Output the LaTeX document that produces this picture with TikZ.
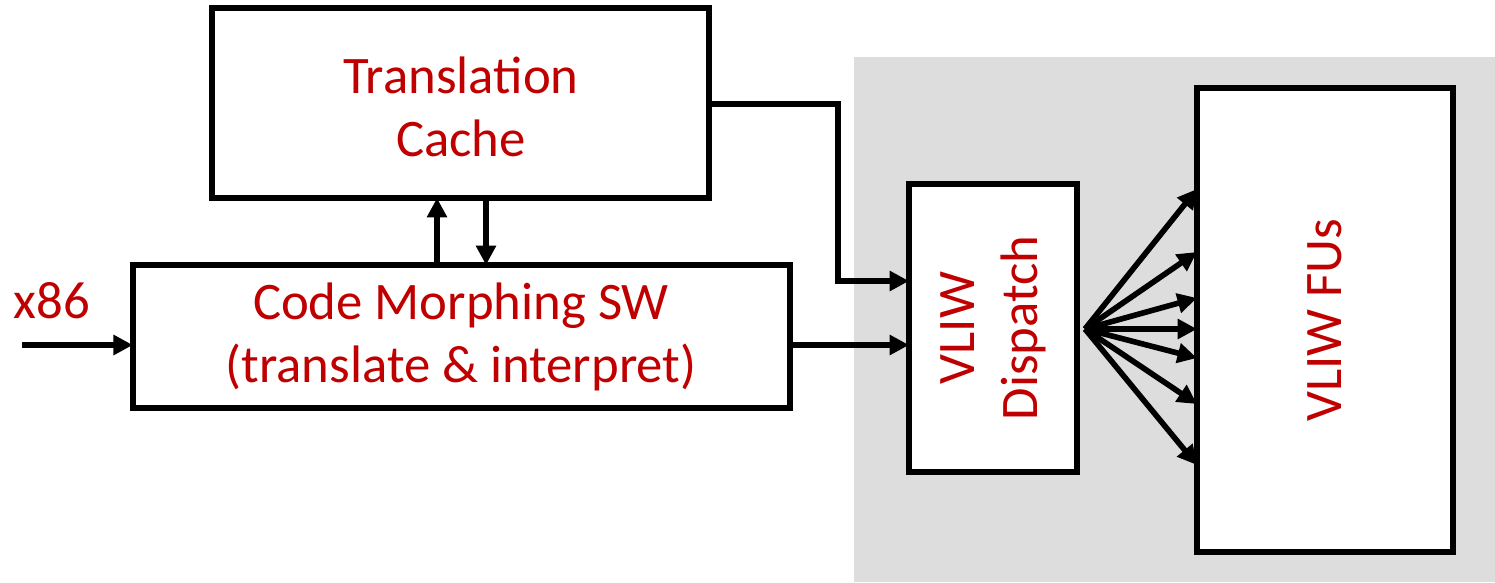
\documentclass[tikz,border=0pt]{standalone}
\usepackage{fontspec}
\setmainfont{Carlito}
\usetikzlibrary{arrows.meta}
\definecolor{txtred}{HTML}{C00000}
\definecolor{bggray}{HTML}{DDDDDD}
\begin{document}
\begin{tikzpicture}[x=0.01cm,y=-0.01cm,
  blockbox/.style={draw=black,line width=1.8pt,fill=white,inner sep=0pt,outer sep=0pt},
  lbl/.style={text=txtred,font=\fontsize{15pt}{18pt}\selectfont,align=center},
  conn/.style={line width=1.6pt,-{Triangle[length=5.5pt,width=5.5pt]}}]
\useasboundingbox (0,0) rectangle (1495,582);
\fill[bggray] (854,57) rectangle (1495,582);
\node[blockbox,minimum width=4.97cm,minimum height=1.90cm] (tcbox) at (460.5,103) {};
\node[lbl] (tc) at (461,107) {Translation\\Cache};
\node[blockbox,minimum width=6.57cm,minimum height=1.43cm] (cmbox) at (461.5,336.5) {};
\node[lbl] (cm) at (461,337) {Code Morphing SW\\(translate \& interpret)};
\node[blockbox,minimum width=1.68cm,minimum height=2.88cm] (vdbox) at (993,328) {};
\node[lbl,rotate=90] (vd) at (993,328) {VLIW\\Dispatch};
\node[blockbox,minimum width=2.56cm,minimum height=4.64cm] (fubox) at (1325,320) {};
\node[lbl,rotate=90] (fu) at (1325,320) {VLIW FUs};
\node[lbl,anchor=base] (x86) at (52,318) {x86};
% helper coordinates
\coordinate (inS) at (22,345);
\coordinate (xa) at (437,0);
\coordinate (xb) at (486,0);
\coordinate (ya) at (0,281);
\coordinate (yb) at (0,345);
\coordinate (bend) at (838,104);
\coordinate (fan) at (1085,329);
\draw[conn] (inS) -- (inS -| cmbox.west);
\draw[conn] (cmbox.north -| xa) -- (tcbox.south -| xa);
\draw[conn] (tcbox.south -| xb) -- (cmbox.north -| xb);
\draw[conn] (tcbox.east |- bend) -- (bend) |- (vdbox.west |- ya);
\draw[conn] (cmbox.east |- yb) -- (vdbox.west |- yb);
\foreach \yy in {189,252,298,329,358,404,465}
  \draw[conn] (fan) -- (fubox.west |- 0,\yy);
\end{tikzpicture}
\end{document}
